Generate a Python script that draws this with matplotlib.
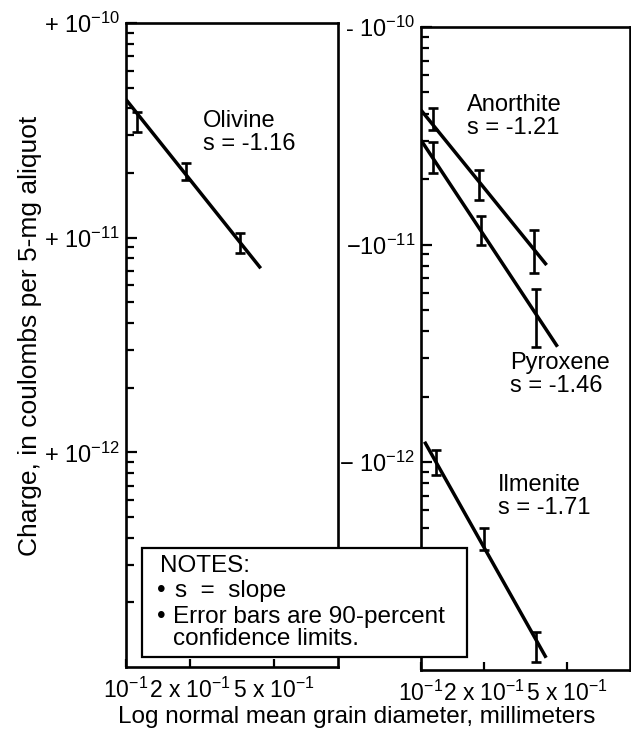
import numpy as np
import matplotlib.pyplot as plt
from matplotlib.patches import Rectangle
from matplotlib.ticker import LogLocator, NullFormatter

plt.rcParams['font.family'] = ['Liberation Sans', 'DejaVu Sans']
plt.rcParams['mathtext.fontset'] = 'custom'
plt.rcParams['mathtext.rm'] = 'Liberation Sans'
plt.rcParams['mathtext.it'] = 'Liberation Sans:italic'
plt.rcParams['mathtext.bf'] = 'Liberation Sans:bold'

# grain diameter (mm), charge magnitude (C), 90% limits, drawn fit line
olivine_x = [0.113, 0.191, 0.346]
olivine_y = [3.46e-11, 2.06e-11, 9.7e-12]
olivine_lo = [3.11e-11, 1.85e-11, 8.5e-12]
olivine_hi = [3.86e-11, 2.23e-11, 1.05e-11]
olivine_fit_x = [0.100, 0.432]
olivine_fit_y = [4.4e-11, 7.2e-12]

anorthite_x = [0.114, 0.189, 0.348]
anorthite_y = [3.80e-11, 1.88e-11, 9.4e-12]
anorthite_lo = [3.36e-11, 1.60e-11, 7.4e-12]
anorthite_hi = [4.24e-11, 2.20e-11, 1.17e-11]
anorthite_fit_x = [0.100, 0.399]
anorthite_fit_y = [4.15e-11, 8.05e-12]

pyroxene_x = [0.114, 0.193, 0.354]
pyroxene_y = [2.53e-11, 1.17e-11, 4.84e-12]
pyroxene_lo = [2.14e-11, 1.00e-11, 3.39e-12]
pyroxene_hi = [2.97e-11, 1.35e-11, 6.24e-12]
pyroxene_fit_x = [0.100, 0.450]
pyroxene_fit_y = [3.02e-11, 3.39e-12]

ilmenite_x = [0.118, 0.200, 0.355]
ilmenite_y = [1.0e-12, 4.24e-13, 1.49e-13]
ilmenite_lo = [8.7e-13, 3.94e-13, 1.21e-13]
ilmenite_hi = [1.135e-12, 4.98e-13, 1.66e-13]
ilmenite_fit_x = [0.104, 0.397]
ilmenite_fit_y = [1.24e-12, 1.26e-13]

x_ticks = [0.1, 0.2, 0.5]
x_tick_labels = [r'$10^{-1}$', r'2 x $10^{-1}$', r'5 x $10^{-1}$']
y_ticks = [1e-12, 1e-11, 1e-10]
left_y_labels = [r'+ $10^{-12}$', r'+ $10^{-11}$', r'+ $10^{-10}$']
right_y_labels = [r'− $10^{-12}$', r'−$10^{-11}$', r'- $10^{-10}$']

W, H = 631, 747


def fx(x):
    return x / W


def fy(y):
    return 1 - y / H


def style_axes(ax, ylim, ylabels):
    ax.set_xscale('log')
    ax.set_yscale('log')
    ax.set_xlim(0.1, 1.0)
    ax.set_ylim(*ylim)
    ax.set_xticks(x_ticks)
    ax.set_xticklabels(x_tick_labels, fontsize=16.5)
    ax.xaxis.set_minor_locator(plt.NullLocator())
    ax.set_yticks(y_ticks)
    ax.set_yticklabels(ylabels, fontsize=17)
    ax.yaxis.set_minor_locator(LogLocator(base=10, subs=np.arange(2, 10)))
    ax.yaxis.set_minor_formatter(NullFormatter())
    ax.tick_params(axis='both', which='both', direction='in', width=1.6,
                   top=False, right=False, color='black')
    ax.tick_params(axis='y', which='major', length=8, pad=4)
    ax.tick_params(axis='y', which='minor', length=6)
    ax.tick_params(axis='x', which='major', length=6, pad=8)
    for sp in ax.spines.values():
        sp.set_linewidth(1.9)


def draw(ax, x, y, lo, hi, fit_x, fit_y):
    y = np.array(y)
    err = [y - np.array(lo), np.array(hi) - y]
    ax.errorbar(x, y, yerr=err, fmt='none', ecolor='black',
                elinewidth=1.9, capsize=3.8, capthick=1.9)
    ax.plot(fit_x, fit_y, color='black', lw=2.5, solid_capstyle='butt')


fig = plt.figure(figsize=(6.31, 7.47), dpi=100)

ax1 = fig.add_axes([fx(126), fy(667), (338 - 126) / W, (667 - 23) / H])
ax2 = fig.add_axes([fx(421), fy(670), (630 - 421) / W, (670 - 27) / H])

style_axes(ax1, (1e-13, 1e-10), left_y_labels)
style_axes(ax2, (1.107e-13, 1e-10), right_y_labels)

draw(ax1, olivine_x, olivine_y, olivine_lo, olivine_hi, olivine_fit_x, olivine_fit_y)
draw(ax2, anorthite_x, anorthite_y, anorthite_lo, anorthite_hi, anorthite_fit_x, anorthite_fit_y)
draw(ax2, pyroxene_x, pyroxene_y, pyroxene_lo, pyroxene_hi, pyroxene_fit_x, pyroxene_fit_y)
draw(ax2, ilmenite_x, ilmenite_y, ilmenite_lo, ilmenite_hi, ilmenite_fit_x, ilmenite_fit_y)

# mineral labels
lab = dict(fontsize=17, ha='left', va='top', linespacing=1.05)
fig.text(fx(203), fy(110), 'Olivine\ns = -1.16', **lab)
fig.text(fx(467), fy(94), 'Anorthite\ns = -1.21', **lab)
fig.text(fx(510), fy(352), 'Pyroxene\ns = -1.46', **lab)
fig.text(fx(498), fy(474), 'Ilmenite\ns = -1.71', **lab)

# axis titles
fig.text(fx(30), fy(336), 'Charge, in coulombs per 5-mg aliquot',
         rotation=90, ha='center', va='center', fontsize=19)
fig.text(fx(357), fy(717), 'Log normal mean grain diameter, millimeters',
         ha='center', va='center', fontsize=17.5)

# notes box
fig.add_artist(Rectangle((fx(142), fy(657)), (467 - 142) / W, (657 - 548) / H,
                         transform=fig.transFigure, facecolor='white',
                         edgecolor='black', lw=1.6, zorder=4))
note = dict(fontsize=17.5, ha='left', va='center', zorder=5)
fig.text(fx(160), fy(566), 'NOTES:', **note)
fig.text(fx(157), fy(591), '•', **note)
fig.text(fx(175), fy(591), 's  =  slope', **note)
fig.text(fx(157), fy(617), '•', **note)
fig.text(fx(173), fy(617), 'Error bars are 90-percent', **note)
fig.text(fx(173), fy(639), 'confidence limits.', **note)

fig.savefig('out.png', dpi=100)
